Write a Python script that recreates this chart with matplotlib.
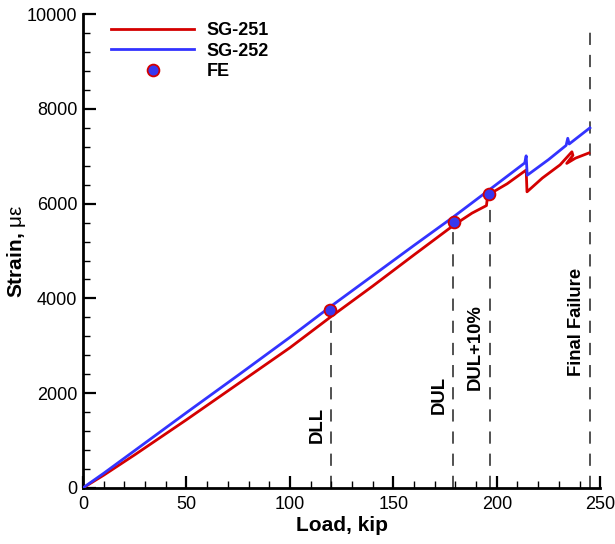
#strain vs load chart: SG-251 / SG-252 gauges with FE points

#imports
import matplotlib
matplotlib.use('Agg')
import matplotlib.pyplot as plt
from matplotlib.ticker import MultipleLocator

plt.rcParams['font.family'] = ['Liberation Sans', 'DejaVu Sans']
#upright greek for the strain unit
plt.rcParams['mathtext.fontset'] = 'custom'
plt.rcParams['mathtext.it'] = 'Liberation Sans'
plt.rcParams['mathtext.rm'] = 'Liberation Sans'

#data
sg251_load = [0, 2, 10, 25, 50, 75, 100, 120, 140, 160, 179, 188, 195, 195.6, 205, 214.2, 214.6,
              222, 230.6, 236.3, 236.8, 233.8, 238, 244.5]
sg251_strain = [0, 55, 270, 700, 1440, 2200, 2960, 3620, 4260, 4920, 5540, 5800, 5960, 6180, 6420,
                6710, 6250, 6540, 6820, 7095, 7020, 6850, 6960, 7070]

sg252_load = [0, 2, 10, 25, 50, 75, 100, 120, 140, 160, 179, 196, 213.5, 214.2, 214.7, 225,
              233.5, 234.3, 235, 245]
sg252_strain = [0, 65, 310, 790, 1590, 2380, 3180, 3840, 4480, 5120, 5720, 6280, 6860, 7010, 6600,
                6930, 7230, 7380, 7260, 7600]

fe_load = [119.5, 179.3, 196.3]
fe_strain = [3760, 5620, 6200]

#reference load levels
ref_names = ['DLL', 'DUL', 'DUL+10%', 'Final Failure']
ref_load = [120, 179, 196.5, 245.2]
ref_top = [3620, 5560, 6180, 9650]
ref_text_y = [1330, 1960, 2970, 3500]

fig = plt.figure(figsize=(6.15, 5.44), dpi=100)
ax = fig.add_axes([0.135, 0.103, 0.841, 0.871])

#reference lines and labels
for name, x, top, ty in zip(ref_names, ref_load, ref_top, ref_text_y):
    ax.plot([x, x], [0, top], color='#222222', lw=1.1, dashes=(8, 6.5), zorder=1)
    ax.annotate(name, (x, ty), xytext=(-4, 0), textcoords='offset points',
                rotation=90, ha='right', va='center', fontsize=13.3, fontweight='bold')

ax.plot(sg251_load, sg251_strain, color='#d40000', lw=2.0, label='SG-251', zorder=3)
ax.plot(sg252_load, sg252_strain, color='#3333ff', lw=2.0, label='SG-252', zorder=3)
ax.plot(fe_load, fe_strain, 'o', ms=8.5, mfc='#3838f0', mec='#d40000', mew=1.3,
        ls='none', label='FE', zorder=4)

ax.set_xlim(0, 250)
ax.set_ylim(0, 10000)
ax.xaxis.set_major_locator(MultipleLocator(50))
ax.xaxis.set_minor_locator(MultipleLocator(10))
ax.yaxis.set_major_locator(MultipleLocator(2000))
ax.yaxis.set_minor_locator(MultipleLocator(400))
ax.tick_params(which='both', direction='in', labelsize=13)
ax.tick_params(axis='y', pad=4)
ax.tick_params(axis='x', pad=6)
ax.tick_params(which='major', length=9, width=1.6)
ax.tick_params(which='minor', length=5, width=1.0)

ax.spines['top'].set_visible(False)
ax.spines['right'].set_visible(False)
ax.spines['left'].set_linewidth(2)
ax.spines['bottom'].set_linewidth(2)

ax.set_xlabel('Load, kip', fontsize=15, fontweight='bold', labelpad=2)
ax.set_ylabel(r'Strain, $\mu\varepsilon$', fontsize=15, fontweight='bold', labelpad=-1)

ax.legend(loc='upper left', bbox_to_anchor=(0.03, 1.01), frameon=False,
          prop={'size': 13, 'weight': 'bold'}, handlelength=4.6, handletextpad=0.7,
          labelspacing=0.2, borderaxespad=0.3)

plt.savefig('out.png', dpi=100)
